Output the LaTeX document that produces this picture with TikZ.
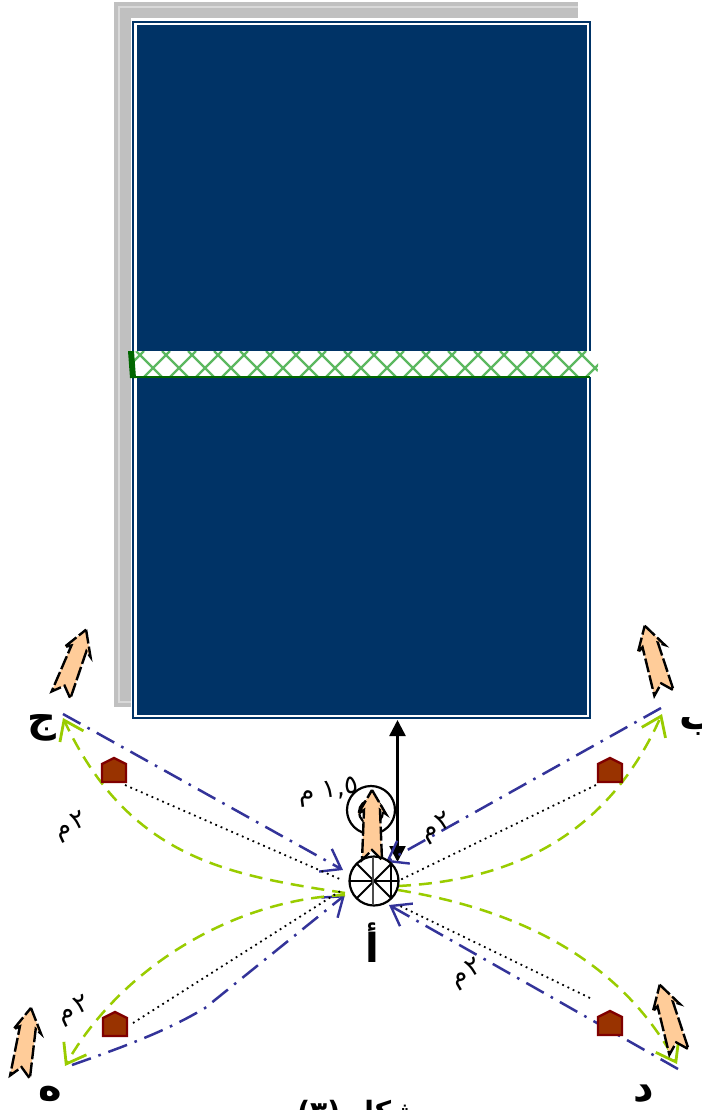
\documentclass[tikz,border=0pt]{standalone}
\usepackage{fontspec}
\newfontfamily\arabicfont[Script=Arabic]{DejaVu Sans}
\TeXXeTstate=1
\usetikzlibrary{arrows.meta}
\definecolor{courtblue}{HTML}{003366}
\definecolor{framegrey}{HTML}{C0C0C0}
\definecolor{netgreen}{HTML}{5CB860}
\definecolor{postgreen}{HTML}{006600}
\definecolor{passblue}{HTML}{333399}
\definecolor{curvegreen}{HTML}{99CC00}
\definecolor{peach}{HTML}{FFCC99}
\definecolor{conebrown}{HTML}{993300}
\definecolor{coneedge}{HTML}{800000}
\tikzset{
  passline/.style={draw=passblue,line width=1.25pt,dash pattern=on 10pt off 4pt on 1.3pt off 4pt,
    -{Straight Barb[length=9pt,width=13pt,line width=1.2pt,color=passblue]}},
  curveline/.style={draw=curvegreen,line width=1.25pt,dash pattern=on 6.5pt off 4pt,
    -{Straight Barb[length=9pt,width=13pt,line width=1.4pt,color=curvegreen]}},
  aimline/.style={black,line width=0.9pt,dotted},
  cornerlabel/.style={font=\arabicfont\bfseries\fontsize{20}{20}\selectfont,inner sep=0pt},
  lengthlabel/.style={font=\arabicfont\fontsize{13}{13}\selectfont,inner sep=0pt},
  runarrow/.pic={
    \draw[fill=peach,line width=1.2pt,dash pattern=on 7pt off 1.6pt]
      (0,-70) -- (14,-46) -- (8,-50) -- (10,0) -- (0,-10) -- (-10,0) -- (-8,-50) -- (-14,-46) -- cycle;
  },
  cone/.pic={
    \draw[fill=conebrown,draw=coneedge,line width=1.2pt]
      (0,-12) -- (12,-6) -- (12,12) -- (-12,12) -- (-12,-6) -- cycle;
  }
}
\begin{document}
\begin{tikzpicture}[x=0.5pt,y=-0.5pt]
  \useasboundingbox (0,0) rectangle (702,1110);
  \fill[framegrey] (114,2) rectangle (578,18);
  \fill[framegrey] (114,2) rectangle (131,707);
  \draw[white!85!black,line width=0.6pt] (578,7) -- (119,7) -- (119,702) -- (131,702);
  \draw[courtblue,fill=white,line width=0.8pt] (133,22) rectangle (590,718);
  \fill[courtblue] (137,25) rectangle (587,715);
  \fill[white,rounded corners=4pt] (130,351) rectangle (598,377);
  \begin{scope}
    \clip[rounded corners=4pt] (130,351) rectangle (598,377);
    \foreach \netx in {136,162,...,620} {
      \draw[netgreen,line width=1.1pt] (\netx,351) -- ++(26,26);
      \draw[netgreen,line width=1.1pt] (\netx-18,377) -- ++(26,-26);
    }
  \end{scope}
  \draw[postgreen,line width=0.6pt] (134,377) -- (590,377);
  \fill[postgreen] (128,351) -- (134,351) -- (136,378) -- (130,378) -- cycle;

  \coordinate (courtedge) at (397.5,720);
  \coordinate (playerstop) at (397.5,862);
  \coordinate (cornerb) at (661,708);
  \coordinate (cornerj) at (63,714);
  \coordinate (cornerd) at (678,1069);
  \coordinate (cornerh) at (72,1065);
  \coordinate (hitj) at (343,870);
  \coordinate (hitb) at (386,862);
  \coordinate (hitd) at (389,905);
  \coordinate (hith) at (345,895);

  \draw[line width=1.3pt,{Triangle[length=8pt,width=8pt]}-{Triangle[length=8pt,width=8pt]}] (courtedge) -- (playerstop);

  \draw[passline] (cornerj) -- (hitj);
  \draw[passline] (cornerb) -- (hitb);
  \draw[passline] (cornerd) -- (hitd);
  \draw[passline] (cornerh) .. controls (120,1048) and (165,1032) .. (205,1008) -- (hith);

  \draw[curveline] (345,893) .. controls (230,875) and (130,860) .. (63,718);
  \draw[curveline] (398,886) .. controls (520,880) and (610,830) .. (662,714);
  \draw[curveline] (398,890) .. controls (520,910) and (620,960) .. (677,1064);
  \draw[curveline] (345,895) .. controls (230,900) and (120,970) .. (65,1066);

  \pic at (114,770) {cone};
  \pic at (610,770) {cone};
  \pic at (610,1023) {cone};
  \pic at (115,1024) {cone};
  \coordinate (conej) at (125,785);
  \coordinate (coneb) at (596,785);
  \coordinate (coned) at (590,998);
  \coordinate (coneh) at (133,1023);
  \draw[aimline] (conej) -- (342,880);
  \draw[aimline] (coneb) -- (400,880);
  \draw[aimline] (coned) -- (398,905);
  \draw[aimline] (coneh) -- (342,890);

  \draw[line width=1.1pt] (371,810) circle (24);
  \draw[line width=1.1pt] (371,812) circle (12);
  \draw[fill=white,line width=1.1pt] (374,881) circle (24.5);
  \draw[line width=1pt] (357,864) -- (391,898);
  \draw[line width=1pt] (391,864) -- (357,898);
  \draw[line width=1pt] (350,881) -- (398,881);
  \draw[line width=1.4pt,black!70] (373,857) -- (373,905);
  \draw[line width=1pt] (391,864) -- (391,898);

  \pic at (372,860) {runarrow};
  \pic[rotate=-21] at (61,695) {runarrow};
  \pic[rotate=16] at (664,693) {runarrow};
  \pic[rotate=16] at (679,1052) {runarrow};
  \pic[rotate=-9] at (20,1077) {runarrow};

  \node[cornerlabel] (labela) at (372,943) {\beginR أ\endR};
  \node[cornerlabel] (labelb) at (700,726) {\beginR ب\endR};
  \node[cornerlabel] (labelj) at (42,728) {\beginR ج\endR};
  \node[cornerlabel] (labeld) at (644,1094) {\beginR د\endR};
  \node[cornerlabel] (labelh) at (50,1094) {\beginR ه\endR};

  \node[lengthlabel,rotate=25] (lengthj) at (71,827) {\beginR ٢\kern1pt م\endR};
  \node[lengthlabel,rotate=25] (lengthh) at (74,1011) {\beginR ٢\kern1pt م\endR};
  \node[lengthlabel,rotate=30] (lengthd) at (467,974) {\beginR ٢\kern1pt م\endR};
  \node[lengthlabel,rotate=30] (lengthb) at (437,828) {\beginR ٢\kern1pt م\endR};
  \node[lengthlabel,rotate=8] (lengthstop) at (329,792) {\beginR\beginL ١,٥\endL{} م\endR};

  \node[font=\arabicfont\bfseries\fontsize{14}{14}\selectfont,inner sep=0pt] (caption) at (358,1113) {\beginR شكل (٣)\endR};
\end{tikzpicture}
\end{document}
